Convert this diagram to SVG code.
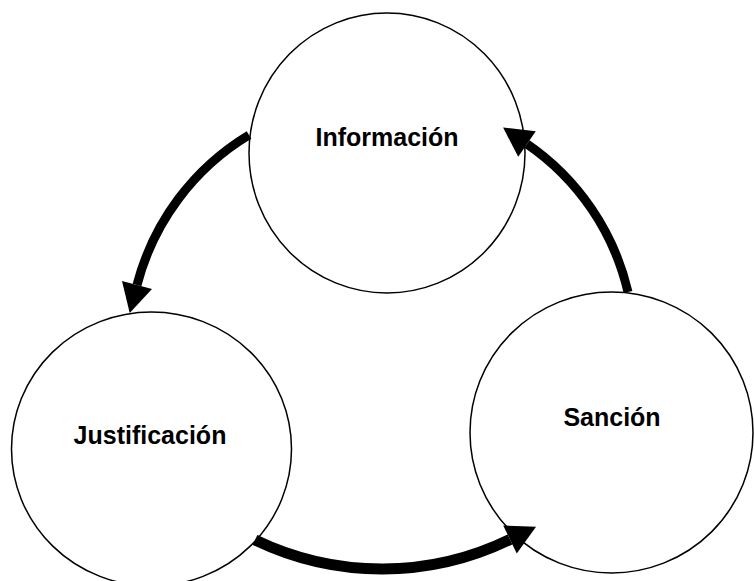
<svg xmlns="http://www.w3.org/2000/svg" width="754" height="581" viewBox="0 0 754 581">
<style>
.node{fill:#ffffff;stroke:#000000;stroke-width:1.5}
.lbl{font-family:"Liberation Sans",Arial,sans-serif;font-weight:bold;font-size:25px;fill:#000000;text-anchor:middle}
.conn{fill:none;stroke:#000000;stroke-width:9}
</style>
<defs>
<marker id="head" markerUnits="userSpaceOnUse" markerWidth="32" markerHeight="32" refX="0" refY="15.5" orient="auto" overflow="visible">
<path d="M0,0 L29,15.5 L0,31 z" fill="#000000"/>
</marker>
</defs>
<rect width="754" height="581" fill="#ffffff"/>
<g id="informacion">
<ellipse class="node" cx="387" cy="153" rx="138" ry="140"/>
<text class="lbl" x="387" y="146">Información</text>
</g>
<g id="justificacion">
<ellipse class="node" cx="151.5" cy="449" rx="140" ry="137"/>
<text class="lbl" x="150" y="444">Justificación</text>
</g>
<g id="sancion">
<ellipse class="node" cx="611.5" cy="432.5" rx="141.5" ry="140.5"/>
<text class="lbl" x="612" y="426">Sanción</text>
</g>
<g id="connectors">
<path class="conn" d="M249,135 A248,248 0 0 0 137,285" marker-end="url(#head)"/>
<path class="conn" d="M628,292 A248,248 0 0 0 527,144" marker-end="url(#head)"/>
<path class="conn" style="stroke-width:11" d="M255,540 A292,292 0 0 0 510,539.5" marker-end="url(#head)"/>
</g>
</svg>
